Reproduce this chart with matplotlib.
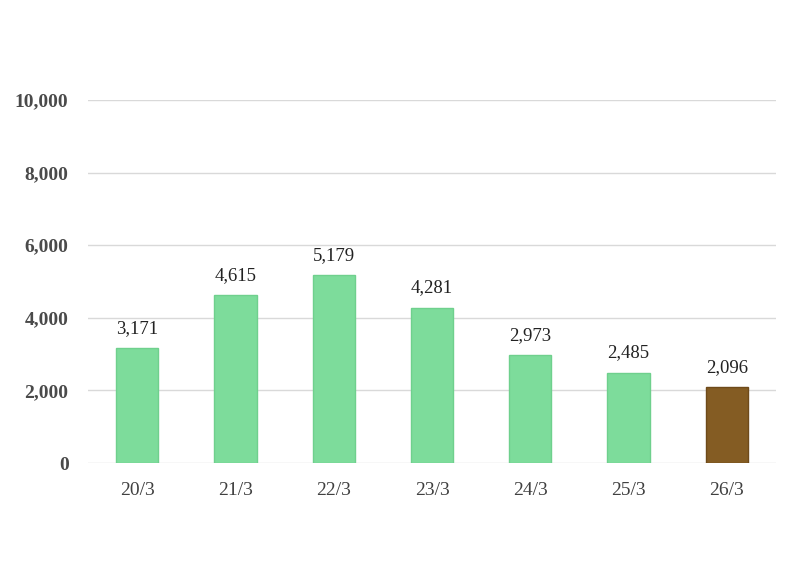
import matplotlib
matplotlib.use("Agg")
import matplotlib.pyplot as plt

categories = ["20/3", "21/3", "22/3", "23/3", "24/3", "25/3", "26/3"]
values = [3171, 4615, 5179, 4281, 2973, 2485, 2096]
yticks = [0, 2000, 4000, 6000, 8000, 10000]

colors = ["#7DDC9B"] * 6 + ["#845C23"]
edges = ["#6FD08D"] * 6 + ["#6E4A1A"]

plt.rcParams['font.family'] = ['Liberation Serif', 'DejaVu Serif']

fig = plt.figure(figsize=(8, 5.67), dpi=100)
ax = fig.add_axes([0.11, 0.1834, 0.86, 0.6402])
x = range(len(categories))
bars = ax.bar(x, values, width=0.43, color=colors, edgecolor=edges, linewidth=1, zorder=3)
for xi, v in zip(x, values):
    ax.annotate(f"{v:,}", (xi, v), xytext=(0, 11), textcoords="offset points",
                ha="center", va="baseline", fontsize=13.5, color="#222222")

ax.set_xlim(-0.5, len(categories) - 0.5)
ax.set_ylim(0, 10000)
ax.set_yticks(yticks)
ax.set_yticklabels([f"{t:,}" for t in yticks], fontsize=14, color="#4a4a4a", fontweight="bold")
ax.set_xticks(list(x))
ax.set_xticklabels(categories, fontsize=14, color="#404040")
ax.grid(axis="y", color="#D9D9D9", linewidth=1, zorder=0)
for s in ax.spines.values():
    s.set_visible(False)
ax.tick_params(axis="both", length=0)
ax.tick_params(axis="y", pad=14)
ax.tick_params(axis="x", pad=13.5)

fig.savefig("out.png", dpi=100)
